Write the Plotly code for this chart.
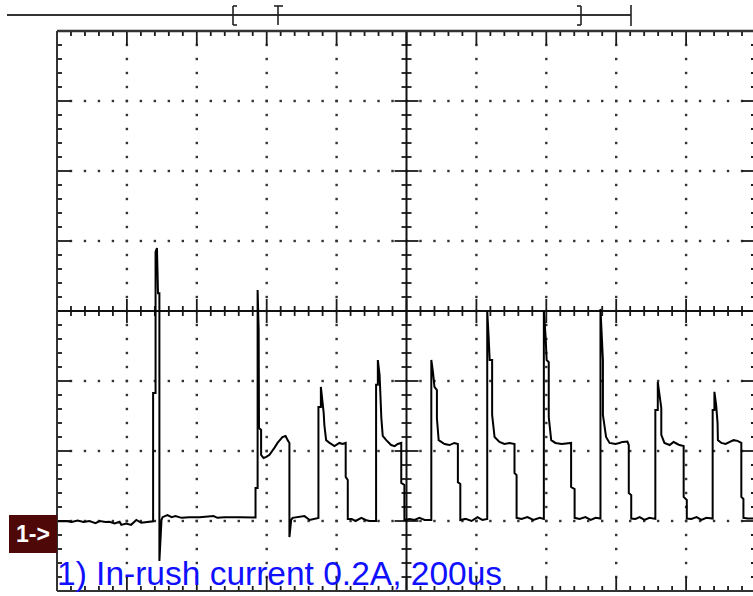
import plotly.graph_objects as go

# ---------------- data (oscilloscope capture, 200 us/div, 0.2 A/div) ----------------
time_us = [
    1, 24, 42, 59, 76, 93, 110, 122, 139, 150, 165, 179, 184, 198, 212, 227, 241, 265, 275,
    275, 282, 282, 286, 289, 293, 293, 296, 299, 302,
    316, 328, 339, 356, 379, 408, 448, 459, 479, 522, 568,
    568, 574, 574, 577, 578, 584, 584, 591, 599, 608, 622, 631, 645, 654, 660, 665, 665, 670, 674,
    694, 708, 723, 737, 748,
    748, 755, 755, 760, 763, 765, 770, 780, 794, 808, 817, 826, 826, 832, 832,
    843, 854, 871, 883, 894, 913,
    913, 918, 918, 923, 928, 932, 942, 956, 966, 975, 985, 985, 994, 994,
    1009, 1023, 1037, 1052, 1071,
    1071, 1076, 1080, 1087, 1087, 1092, 1109, 1123, 1137, 1147, 1147, 1154, 1154,
    1169, 1186, 1203, 1217, 1231,
    1231, 1235, 1238, 1245, 1245, 1252, 1266, 1280, 1295, 1309, 1309, 1315, 1315,
    1329, 1346, 1363, 1381, 1393,
    1393, 1398, 1401, 1407, 1407, 1414, 1426, 1444, 1461, 1471, 1471, 1481, 1481,
    1495, 1512, 1527, 1541, 1555,
    1555, 1559, 1562, 1562, 1571, 1581, 1598, 1609, 1618, 1632, 1636, 1636, 1643, 1643,
    1655, 1667, 1681, 1695, 1712,
    1712, 1719, 1719, 1724, 1729, 1729, 1738, 1753, 1764, 1775, 1781, 1793, 1793, 1802, 1802,
    1815, 1830, 1844, 1858, 1876,
    1876, 1881, 1881, 1886, 1890, 1891, 1901, 1913, 1924, 1936, 1947, 1958, 1958, 1964, 1964,
    1976, 2000,
]
current_a = [
    -0.001, 0.000, -0.003, 0.001, -0.003, 0.000, -0.006, 0.000, -0.003, -0.002, -0.007, -0.002,
    -0.011, -0.007, -0.011, 0.003, -0.005, -0.002, -0.001,
    0.366, 0.366, 0.769, 0.780, 0.651, 0.651, -0.114, -0.046, 0.003, 0.011,
    0.017, 0.011, 0.014, 0.009, 0.011, 0.011, 0.014, 0.009, 0.011, 0.011, 0.010,
    0.094, 0.094, 0.660, 0.546, 0.266, 0.260, 0.189, 0.180, 0.183, 0.189, 0.209, 0.223, 0.240,
    0.243, 0.231, 0.223, -0.046, 0.003, 0.009,
    0.011, 0.014, 0.003, 0.006, 0.009,
    0.326, 0.326, 0.383, 0.346, 0.309, 0.274, 0.231, 0.223, 0.214, 0.223, 0.220, 0.223, 0.126,
    0.117, 0.006,
    0.006, 0.000, 0.009, 0.003, 0.000, 0.000,
    0.389, 0.389, 0.460, 0.417, 0.294, 0.243, 0.231, 0.217, 0.214, 0.220, 0.223, 0.109, 0.103, 0.003,
    0.006, 0.003, 0.009, 0.003, 0.003,
    0.460, 0.423, 0.383, 0.374, 0.294, 0.231, 0.220, 0.217, 0.223, 0.220, 0.111, 0.106, 0.003,
    0.006, 0.000, 0.011, 0.003, 0.006,
    0.600, 0.526, 0.460, 0.460, 0.303, 0.240, 0.226, 0.220, 0.223, 0.220, 0.137, 0.131, 0.009,
    0.006, 0.011, 0.003, 0.009, 0.006,
    0.600, 0.526, 0.460, 0.454, 0.297, 0.231, 0.223, 0.220, 0.223, 0.223, 0.097, 0.091, 0.009,
    0.006, 0.011, 0.003, 0.009, 0.007,
    0.606, 0.526, 0.460, 0.303, 0.240, 0.223, 0.220, 0.223, 0.226, 0.227, 0.217, 0.080, 0.074, 0.007,
    0.006, 0.011, 0.003, 0.009, 0.006,
    0.317, 0.317, 0.397, 0.351, 0.323, 0.246, 0.223, 0.217, 0.226, 0.220, 0.217, 0.214, 0.069,
    0.060, 0.007,
    0.006, 0.011, 0.003, 0.009, 0.007,
    0.317, 0.317, 0.369, 0.331, 0.280, 0.231, 0.223, 0.220, 0.226, 0.231, 0.229, 0.223, 0.069,
    0.063, 0.009,
    0.007, 0.007,
]

TIME_PER_DIV = 200      # us
AMP_PER_DIV = 0.2       # A
N_XDIV, N_YDIV = 10, 8
Y_MIN = -0.2            # ground marker sits one division above the bottom
channel_label = "1-&gt;"
caption = "1) In-rush current 0.2A, 200us"

# ---------------- geometry ----------------
W, H = 753, 596
ML, MT, MB = 57, 31, 5
PW = W - ML
PH = H - MT - MB
X_FULL = TIME_PER_DIV * N_XDIV
Y_MAX = Y_MIN + AMP_PER_DIV * N_YDIV
PX_PER_US = 699 / X_FULL
PX_PER_A = PH / (Y_MAX - Y_MIN)
X_MAX = PW / PX_PER_US
Y_CEN = Y_MIN + AMP_PER_DIV * N_YDIV / 2
X_CEN = X_FULL / 2


def lx(px):
    return px / PX_PER_US


def ly(px):
    return px / PX_PER_A


def xp(px):
    return (px - ML) / PW


def yp(py):
    return (H - MB - py) / PH


def segs_to_xy(segs):
    xs, ys = [], []
    for x0, y0, x1, y1 in segs:
        xs += [x0, x1, None]
        ys += [y0, y1, None]
    return xs, ys


step_x = TIME_PER_DIV / 5
step_y = AMP_PER_DIV / 5
xt = [i * step_x for i in range(N_XDIV * 5 + 1)]
yt = [Y_MIN + i * step_y for i in range(N_YDIV * 5 + 1)]

tick_segs = []
for i, x in enumerate(xt):
    major = i % 5 == 0
    Lb = ly(14 if major else 5)
    Lc = ly(12 if major else 5)
    tick_segs.append((x, Y_MAX, x, Y_MAX - Lb))
    tick_segs.append((x, Y_MIN, x, Y_MIN + Lb))
    tick_segs.append((x, Y_CEN - Lc, x, Y_CEN + Lc))
for i, y in enumerate(yt):
    major = i % 5 == 0
    Lb = lx(14 if major else 5)
    Lc = lx(12 if major else 5)
    tick_segs.append((0, y, Lb, y))
    tick_segs.append((X_FULL, y, X_FULL - Lb, y))
    tick_segs.append((X_CEN - Lc, y, X_CEN + Lc, y))
tick_x, tick_y = segs_to_xy(tick_segs)

dot_x, dot_y = [], []
for k in range(1, N_YDIV):
    gy = Y_MIN + k * AMP_PER_DIV
    if abs(gy - Y_CEN) < 1e-9:
        continue
    for x in xt[1:-1]:
        dot_x.append(x)
        dot_y.append(gy)
for k in range(1, N_XDIV):
    gx = k * TIME_PER_DIV
    if abs(gx - X_CEN) < 1e-9:
        continue
    for y in yt[1:-1]:
        dot_x.append(gx)
        dot_y.append(y)

fig = go.Figure()
fig.add_trace(go.Scatter(x=dot_x, y=dot_y, mode="markers",
                         marker=dict(symbol="square", size=2.4, color="#333333", line=dict(width=0)),
                         hoverinfo="skip", showlegend=False))
fig.add_trace(go.Scatter(x=tick_x, y=tick_y, mode="lines",
                         line=dict(color="#1a1a1a", width=1.8),
                         hoverinfo="skip", showlegend=False))
fig.add_trace(go.Scatter(x=[0, X_FULL, None, X_CEN, X_CEN],
                         y=[Y_CEN, Y_CEN, None, Y_MIN, Y_MAX], mode="lines",
                         line=dict(color="#111111", width=2),
                         hoverinfo="skip", showlegend=False))
fig.add_trace(go.Scatter(x=time_us, y=current_a, mode="lines",
                         line=dict(color="#000000", width=2),
                         name="In-rush current", showlegend=False))

shapes = []


def pline(x0, y0, x1, y1, w=2, c="#333333"):
    shapes.append(dict(type="line", xref="paper", yref="paper",
                       x0=xp(x0), y0=yp(y0), x1=xp(x1), y1=yp(y1),
                       line=dict(color=c, width=w)))


# plot border
pline(ML, MT, ML, H - MB, w=2)
pline(ML, MT, W + 5, MT, w=2.5)
pline(ML, H - MB, W + 5, H - MB, w=2)

# top time-base bar with markers
pline(7, 15, 631, 15, w=2)
pline(233, 6, 233, 25, w=1.6, c="#222222")
pline(233, 6, 237, 6, w=1.6, c="#222222")
pline(233, 25, 237, 25, w=1.6, c="#222222")
pline(278, 6, 278, 25, w=1.6, c="#222222")
pline(274, 6, 283, 6, w=1.6, c="#222222")
pline(581, 6, 581, 25, w=1.6, c="#222222")
pline(577, 6, 581, 6, w=1.6, c="#222222")
pline(577, 25, 581, 25, w=1.6, c="#222222")
pline(631, 5, 631, 26, w=1.6, c="#222222")

# channel marker box
shapes.append(dict(type="rect", xref="paper", yref="paper",
                   x0=xp(9), x1=xp(57), y0=yp(553), y1=yp(515),
                   fillcolor="#4f0808", line=dict(width=0)))

annotations = [
    dict(text="<b>" + channel_label + "</b>", xref="paper", yref="paper",
         x=xp(33), y=yp(534), xanchor="center", yanchor="middle", showarrow=False,
         font=dict(family="Liberation Sans", size=23, color="#ffffff")),
    dict(text=caption, xref="paper", yref="paper",
         x=xp(55), y=yp(573), xanchor="left", yanchor="middle", showarrow=False,
         font=dict(family="Liberation Sans", size=33.5, color="#1010ff")),
]

fig.update_layout(
    width=W, height=H, autosize=False,
    margin=dict(l=ML, r=0, t=MT, b=MB, pad=0),
    paper_bgcolor="#ffffff", plot_bgcolor="#ffffff",
    xaxis=dict(range=[0, X_MAX], visible=False, showgrid=False, zeroline=False, fixedrange=True),
    yaxis=dict(range=[Y_MIN, Y_MAX], visible=False, showgrid=False, zeroline=False, fixedrange=True),
    shapes=shapes, annotations=annotations,
)

fig.write_html("out.html")
